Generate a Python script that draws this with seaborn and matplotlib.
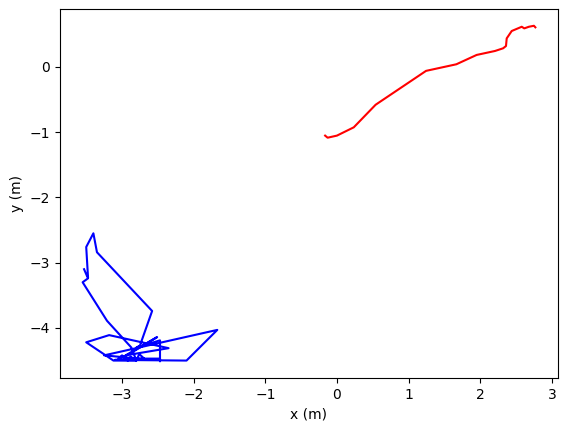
import numpy as np
import pandas as pd
import matplotlib
matplotlib.use('Agg')
import matplotlib.pyplot as plt
import seaborn as sns

# Trajectory (metres)
red_x = [-0.165, -0.13, 0.0, 0.235, 0.54, 1.244, 1.667, 1.95, 2.207, 2.32, 2.36,
         2.37, 2.44, 2.58, 2.615, 2.68, 2.75, 2.77]
red_y = [-1.053, -1.085, -1.053, -0.926, -0.58, -0.061, 0.04, 0.183, 0.244, 0.285, 0.32,
         0.437, 0.55, 0.615, 0.59, 0.615, 0.63, 0.606]

blue_x = [-3.53, -3.475, -3.55, -3.21, -2.87, -2.80, -3.12, -3.50, -3.18, -2.35,
          -2.95, -2.51, -2.90, -3.05, -3.00, -2.92, -2.88, -2.80, -2.76, -2.68,
          -3.25, -1.67, -2.10, -3.10, -2.80, -2.47, -2.47, -2.47, -2.80, -2.75,
          -2.58, -3.35, -3.40, -3.50, -3.475]
blue_y = [-3.10, -3.24, -3.30, -3.89, -4.30, -4.50, -4.50, -4.22, -4.11, -4.31,
          -4.42, -4.14, -4.40, -4.47, -4.42, -4.50, -4.44, -4.50, -4.40, -4.48,
          -4.42, -4.03, -4.50, -4.49, -4.47, -4.47, -4.51, -4.19, -4.30, -4.27,
          -3.74, -2.84, -2.55, -2.76, -3.22]

red = pd.DataFrame({'x': red_x, 'y': red_y})
blue = pd.DataFrame({'x': blue_x, 'y': blue_y})

fig = plt.figure(figsize=(5.65, 4.32), dpi=100)
ax = fig.add_axes([60 / 565, 1 - 378 / 432, 498 / 565, 369 / 432])

sns.lineplot(data=red, x='x', y='y', sort=False, estimator=None, color='red', ax=ax)
sns.lineplot(data=blue, x='x', y='y', sort=False, estimator=None, color='blue', ax=ax)

ax.set_xlabel('x (m)')
ax.set_ylabel('y (m)')

fig.savefig('out.png', dpi=100)
